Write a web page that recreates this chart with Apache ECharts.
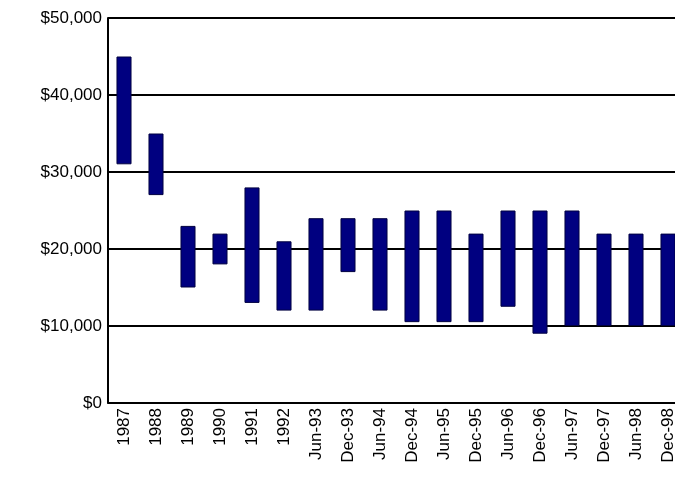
<!DOCTYPE html>
<html><head><meta charset="utf-8">
<script src="https://cdn.jsdelivr.net/npm/echarts@6/dist/echarts.min.js"></script>
<style>html,body{margin:0;padding:0;background:#fff;overflow:hidden}#c{width:684px;height:496px}</style>
</head><body><div id="c"></div>
<script>
const categories=["1987","1988","1989","1990","1991","1992","Jun-93","Dec-93","Jun-94","Dec-94","Jun-95","Dec-95","Jun-96","Dec-96","Jun-97","Dec-97","Jun-98","Dec-98"];
const lows=[31000,27000,15000,18000,13000,12000,12000,17000,12000,10500,10500,10500,12500,9000,10000,10000,10000,10000];
const highs=[45000,35000,23000,22000,28000,21000,24000,24000,24000,25000,25000,22000,25000,25000,25000,22000,22000,22000];
const yTicks=[0,10000,20000,30000,40000,50000];
const chart=echarts.init(document.getElementById('c'));
chart.setOption({
  animation:false,
  grid:{left:108,top:18,height:385,right:0},
  xAxis:{type:'category',data:categories,
    axisLine:{lineStyle:{color:'#000'}},axisTick:{show:false},
    axisLabel:{rotate:90,interval:0,color:'#000',fontFamily:'Liberation Sans',fontSize:17,margin:5}},
  yAxis:{type:'value',min:0,max:50000,interval:10000,
    axisLine:{show:true,lineStyle:{color:'#000',width:2}},axisTick:{show:false},
    splitLine:{lineStyle:{color:'#000',width:2}},
    axisLabel:{color:'#000',fontFamily:'Liberation Sans',fontSize:17,margin:6,
      formatter:v=>yTicks.includes(v)?'$'+v.toLocaleString('en-US'):''}},
  series:[
    {type:'bar',stack:'a',data:lows,itemStyle:{color:'transparent'},barWidth:'47%'},
    {type:'bar',stack:'a',data:highs.map((h,i)=>h-lows[i]),itemStyle:{color:'#000080',borderColor:'#000040',borderWidth:1,borderRadius:0},barWidth:'47%'}
  ]
});
</script></body></html>
